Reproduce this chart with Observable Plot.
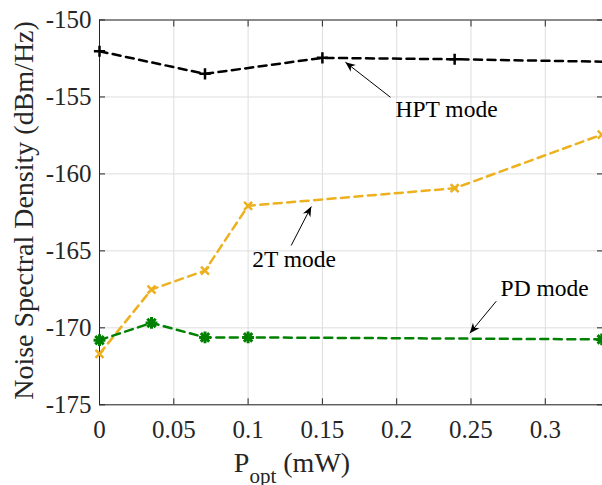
<!DOCTYPE html>
<html><head><meta charset="utf-8">
<script src="https://cdn.jsdelivr.net/npm/d3@7"></script>
<script src="https://cdn.jsdelivr.net/npm/@observablehq/plot@0.6"></script>
<style>body{margin:0;background:#fff} svg{display:block}</style>
</head><body><div id="chart"></div>
<script>
// Data
const hptX = [0, 0.071, 0.15, 0.239, 0.345];
const hptY = [-152.03, -153.5, -152.46, -152.55, -152.72];
const twoTX = [0, 0.035, 0.071, 0.1, 0.239, 0.338];
const twoTY = [-171.69, -167.51, -166.28, -162.07, -160.93, -157.45];
const pdX = [0, 0.035, 0.071, 0.1, 0.338];
const pdY = [-170.8, -169.68, -170.62, -170.62, -170.75];

const xTicks = [0, 0.05, 0.1, 0.15, 0.2, 0.25, 0.3];
const yTicks = [-175, -170, -165, -160, -155, -150];

// Annotations (data coordinates)
const annLabels = ["HPT mode", "2T mode", "PD mode"];
const annTailX = [0.1958, 0.129, 0.267];
const annTailY = [-155.02, -164.65, -168.27];
const annHeadX = [0.1655, 0.1425, 0.2492];
const annHeadY = [-152.74, -162.12, -170.35];
const annTextX = [0.1992, 0.1028, 0.2699];
const annTextY = [-155.79, -165.54, -167.42];

const axisColor = "#262626";
const gridColor = "#dedede";

const chart = Plot.plot({
  width: 602,
  height: 485,
  marginLeft: 99,
  marginRight: 0,
  marginTop: 19.5,
  marginBottom: 80.7,
  style: {fontFamily: "'Liberation Serif', 'Times New Roman', serif", background: "white", color: axisColor},
  x: {domain: [0, 0.3385]},
  y: {domain: [-175, -150]},
  marks: [
    Plot.gridX(xTicks, {stroke: gridColor, strokeOpacity: 1}),
    Plot.gridY(yTicks, {stroke: gridColor, strokeOpacity: 1}),
    Plot.ruleX([0], {stroke: axisColor}),
    Plot.ruleY([-150, -175], {stroke: axisColor}),
    Plot.axisX(xTicks, {anchor: "bottom", tickSize: -6, tickPadding: 21.5, fontSize: 25, tickFormat: String, label: null, stroke: axisColor}),
    Plot.axisX(xTicks, {anchor: "top", tickSize: -6, fill: "none", label: null, stroke: axisColor}),
    Plot.axisY(yTicks, {anchor: "left", tickSize: -6, tickPadding: 14, fontSize: 25, tickFormat: String, label: null, stroke: axisColor}),
    Plot.axisY(yTicks, {anchor: "right", tickSize: -6, fill: "none", label: null, stroke: axisColor}),
    // HPT mode
    Plot.line(hptX, {x: hptX, y: hptY, stroke: "#000", strokeWidth: 2.5, strokeDasharray: "8,5.5", clip: true}),
    Plot.dot(hptX, {x: hptX, y: hptY, symbol: "plus", r: 3.7, stroke: "#000", strokeWidth: 2.5}),
    // 2T mode
    Plot.line(twoTX, {x: twoTX, y: twoTY, stroke: "#EDB120", strokeWidth: 2.5, strokeDasharray: "8,5.5", clip: true}),
    Plot.dot(twoTX, {x: twoTX, y: twoTY, symbol: "times", r: 3.7, stroke: "#EDB120", strokeWidth: 2.5}),
    // PD mode
    Plot.line(pdX, {x: pdX, y: pdY, stroke: "#008000", strokeWidth: 2.5, strokeDasharray: "8,5.5", clip: true}),
    Plot.dot(pdX, {x: pdX, y: pdY, symbol: "plus", r: 3.9, stroke: "#008000", strokeWidth: 3}),
    Plot.dot(pdX, {x: pdX, y: pdY, symbol: "times", r: 3.9, stroke: "#008000", strokeWidth: 3}),
    // annotations
    Plot.link(annLabels, {x1: annTailX, y1: annTailY, x2: annHeadX, y2: annHeadY, stroke: "#000", strokeWidth: 1, className: "ann-arrow"}),
    Plot.text(annLabels, {x: annTextX, y: annTextY, text: d => d, textAnchor: "start", fontSize: 23.5, fill: "#000"})
  ]
});

const svg = d3.select(chart);
// filled arrowheads
const defs = svg.append("defs");
defs.append("marker")
  .attr("id", "ahead")
  .attr("markerUnits", "userSpaceOnUse")
  .attr("viewBox", "-11 -5 12 10")
  .attr("refX", 0).attr("refY", 0)
  .attr("markerWidth", 12).attr("markerHeight", 10)
  .attr("orient", "auto")
  .append("path")
  .attr("d", "M0,0 L-10,-4.2 L-7,0 L-10,4.2 Z")
  .attr("fill", "#000");
svg.selectAll(".ann-arrow path, .ann-arrow line").attr("marker-end", "url(#ahead)");

// axis labels
svg.append("text")
  .attr("transform", "translate(33,210.5) rotate(-90)")
  .attr("text-anchor", "middle")
  .attr("font-size", 28)
  .attr("fill", axisColor)
  .text("Noise Spectral Density (dBm/Hz)");

const xl = svg.append("text")
  .attr("x", 292).attr("y", 471.7)
  .attr("font-size", 28)
  .attr("fill", axisColor);
xl.append("tspan").text("P");
xl.append("tspan").attr("font-size", 21).attr("dy", 11).text("opt");
xl.append("tspan").attr("dy", -11).text(" (mW)");

document.getElementById("chart").append(chart);
</script>
</body></html>
